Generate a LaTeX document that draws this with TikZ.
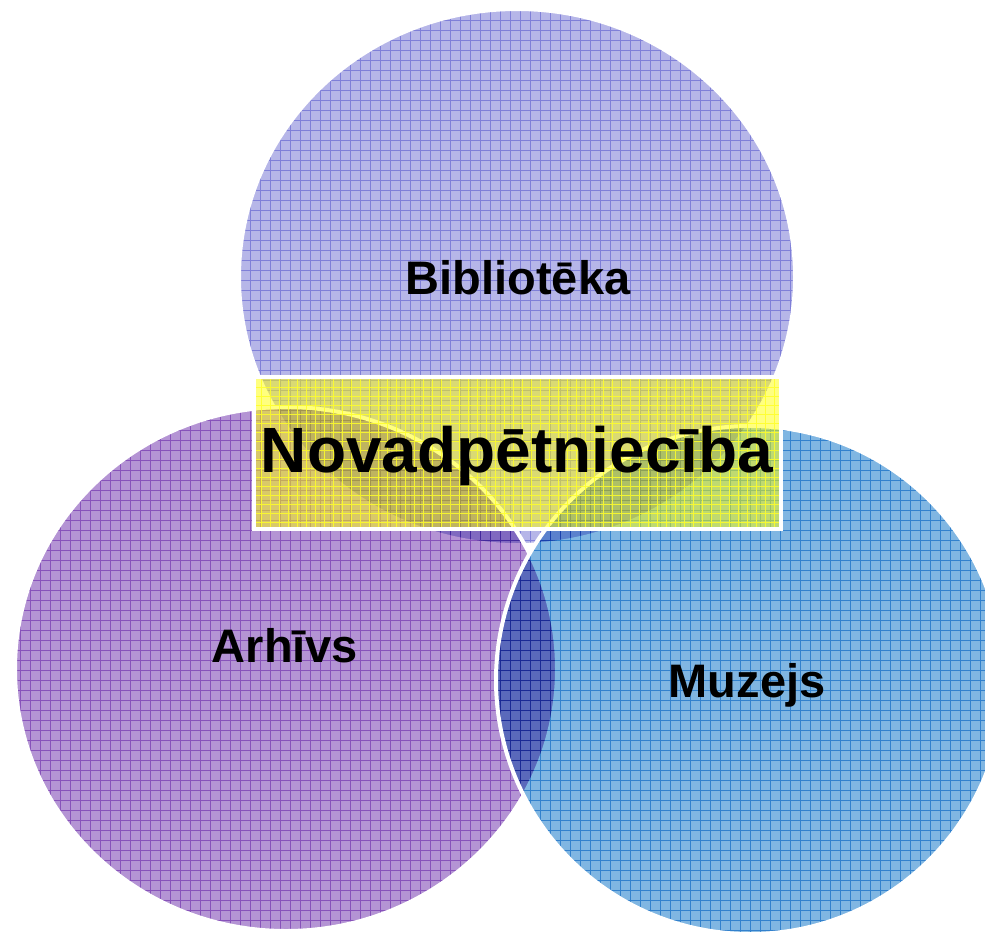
\documentclass[tikz,border=0pt]{standalone}
\usepackage{fontspec}
\setmainfont{Liberation Sans}
\definecolor{topfill}{RGB}{182,182,232}
\definecolor{topgrid}{RGB}{178,178,238}
\definecolor{leftfill}{RGB}{180,148,212}
\definecolor{leftgrid}{RGB}{192,142,224}
\definecolor{rightfill}{RGB}{128,182,226}
\definecolor{rightgrid}{RGB}{100,182,232}
\definecolor{rectfill}{RGB}{255,255,0}
\definecolor{rectgrid}{RGB}{255,255,40}
\tikzset{
  outline/.style={draw=white, line width=4pt},
  gridline/.style={line width=0.9pt},
  label/.style={anchor=base, text=black, font=\bfseries\fontsize{47}{56}\selectfont},
  titlelabel/.style={anchor=base, text=black, font=\bfseries\fontsize{64}{76}\selectfont}
}
\begin{document}
\begin{tikzpicture}[x=1pt,y=-1pt]
\useasboundingbox (0,0) rectangle (985,932);
\clip (0,0) rectangle (985,932);
% top circle
\begin{scope}
  \clip (517,277) ellipse [x radius=278, y radius=268];
  \begin{scope}[blend mode=multiply]
    \fill[topfill] (230,0) rectangle (800,550);
    \draw[topgrid, gridline, step=10pt] (230,0) grid (800,550);
  \end{scope}
\end{scope}
\draw[outline] (517,277) ellipse [x radius=278, y radius=268];
% left circle
\begin{scope}
  \clip (286,669) ellipse [x radius=271, y radius=262];
  \begin{scope}[blend mode=multiply]
    \fill[leftfill] (10,400) rectangle (560,940);
    \draw[leftgrid, gridline, step=10pt] (10,400) grid (560,940);
  \end{scope}
\end{scope}
\draw[outline] (286,669) ellipse [x radius=271, y radius=262];
% right circle
\begin{scope}
  \clip (750,680) ellipse [x radius=254, y radius=254];
  \begin{scope}[blend mode=multiply]
    \fill[rightfill] (490,420) rectangle (1010,940);
    \draw[rightgrid, gridline, step=10pt] (490,420) grid (1010,940);
  \end{scope}
\end{scope}
\draw[outline] (750,680) ellipse [x radius=254, y radius=254];
% title rectangle
\begin{scope}
  \clip (254,377) rectangle (781,529);
  \fill[rectfill, opacity=0.5] (254,377) rectangle (781,529);
  \draw[rectgrid, gridline, step=9pt, opacity=0.85] (250,370) grid (790,535);
\end{scope}
\draw[outline] (254,377) rectangle (781,529);
% labels
\node (bib) [label] at (518,294) {Bibliotēka};
\node (nov) [titlelabel] at (517,472) {Novadpētniecība};
\node (arh) [label] at (285,662) {Arhīvs};
\node (muz) [label] at (747,697) {Muzejs};
\end{tikzpicture}
\end{document}
